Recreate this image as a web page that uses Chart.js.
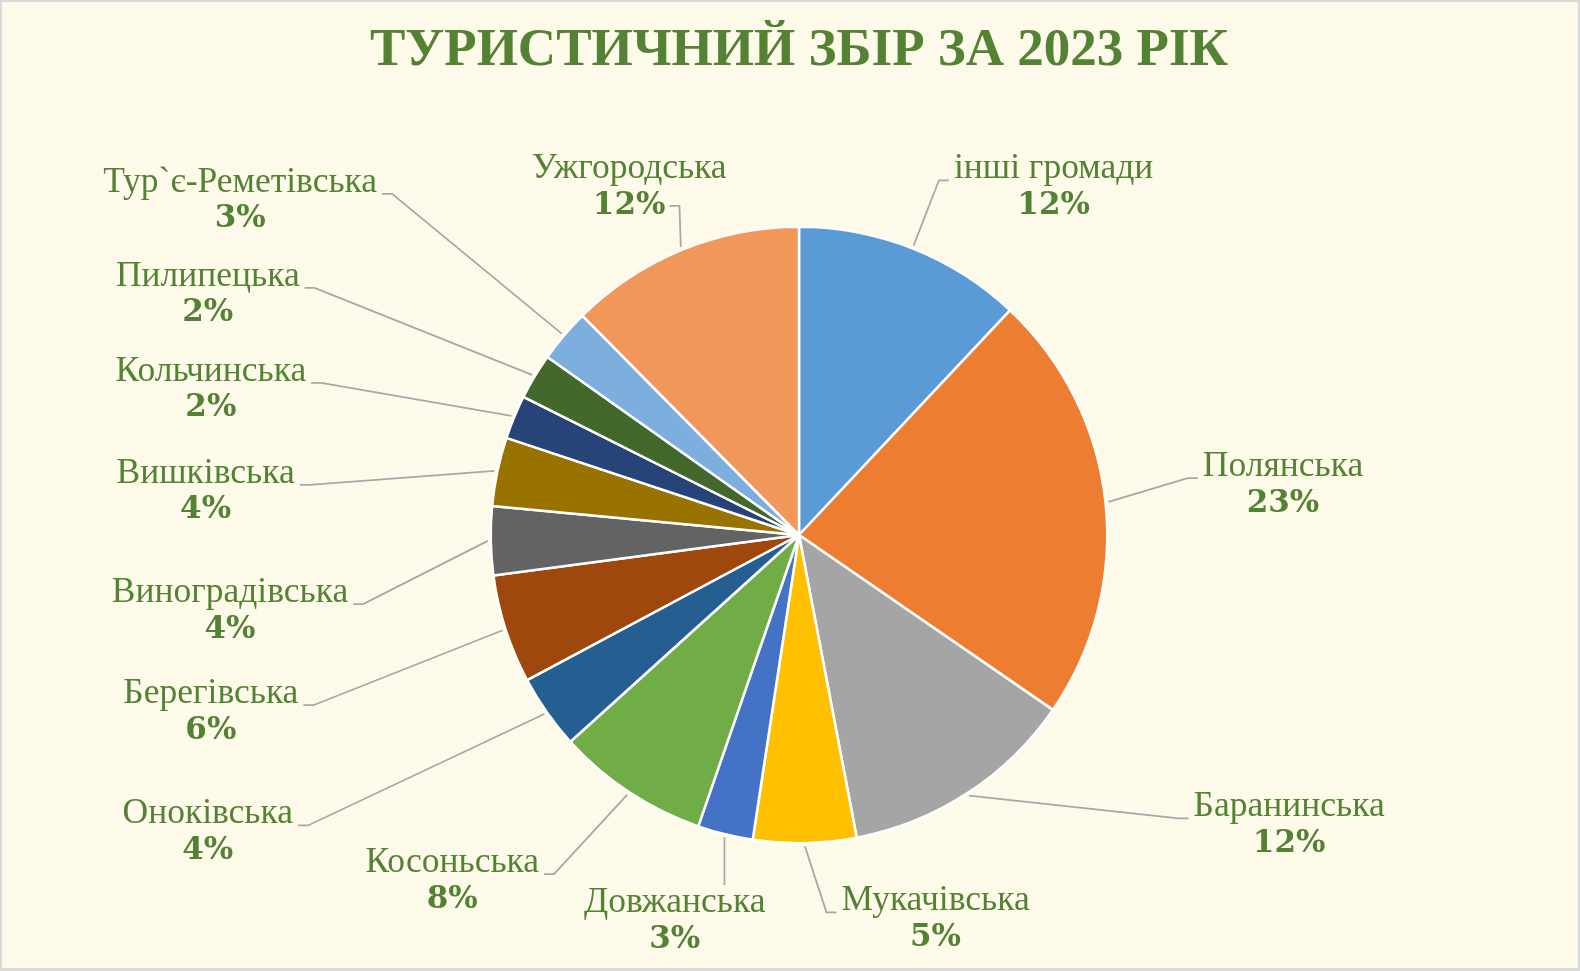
<!DOCTYPE html>
<html><head><meta charset="utf-8">
<script src="https://cdn.jsdelivr.net/npm/chart.js@4/dist/chart.umd.min.js"></script>
<style>
html,body{margin:0;padding:0;background:#D9D9D9;width:1580px;height:971px;overflow:hidden;}
#wrap{position:absolute;left:2px;top:2px;width:1576px;height:966px;background:#FEFAEA;}
</style></head><body><div id="wrap"><canvas id="c"></canvas></div>
<script>
const title = 'ТУРИСТИЧНИЙ ЗБІР ЗА 2023 РІК';
const categories = ['інші громади','Полянська','Баранинська','Мукачівська','Довжанська','Косоньська','Оноківська','Берегівська','Виноградівська','Вишківська','Кольчинська','Пилипецька','Тур`є-Реметівська','Ужгородська'];
const shares = [12.0, 22.6, 12.4, 5.4, 2.9, 8.0, 3.9, 5.7, 3.6, 3.6, 2.3, 2.4, 2.8, 12.4];
const sliceColors = ['#5B9BD5','#ED7D31','#A5A5A5','#FFC000','#4472C4','#70AD47','#255E91','#9E480E','#636363','#997300','#264478','#43682B','#7CAFDD','#F1975A'];
// label block centre, relative to pie centre, in units of the radius
const labelOffsets = [[0.826,-1.128],[1.570,-0.162],[1.590,0.942],[0.443,1.247],[-0.403,1.254],[-1.125,1.123],[-1.918,0.965],[-1.908,0.575],[-1.846,0.247],[-1.925,-0.140],[-1.908,-0.471],[-1.918,-0.779],[-1.813,-1.084],[-0.551,-1.128]];

const outLabels = {
  id: 'outLabels',
  afterDatasetsDraw(chart, args, opts) {
    const ctx = chart.ctx;
    const meta = chart.getDatasetMeta(0);
    const data = chart.data.datasets[0].data;
    const total = data.reduce((a, b) => a + b, 0);
    meta.data.forEach((arc, i) => {
      const p = arc.getProps(['x','y','startAngle','endAngle','outerRadius'], true);
      const mid = (p.startAngle + p.endAngle) / 2;
      const ax = p.x + Math.cos(mid) * (p.outerRadius + 3);
      const ay = p.y + Math.sin(mid) * (p.outerRadius + 3);
      const off = opts.offsets[i];
      const bx = p.x + off[0] * p.outerRadius, by = p.y + off[1] * p.outerRadius;
      const name = chart.data.labels[i];
      const pct = Math.round(data[i] / total * 100) + '%';
      ctx.save();
      ctx.font = opts.nameFont; const wN = ctx.measureText(name).width;
      ctx.font = opts.pctFont; const wP = ctx.measureText(pct).width;
      const yN = by - opts.gap / 2, yP = by + opts.gap / 2;
      const w = Math.max(wN, wP);
      const left = bx - w / 2, right = bx + w / 2, top = yN - 16, bottom = yP + 14;
      const pts = [[ax, ay]];
      if (ay > bottom && ax >= bx - wP / 2 && ax <= bx + wP / 2) {
        pts.push([ax, bottom + 2]);
      } else if (ay < top && ax >= bx - wN / 2 && ax <= bx + wN / 2) {
        pts.push([ax, top - 2]);
      } else if (ay > bottom && ax >= left && ax <= right) {
        const s = ax > bx ? 1 : -1;
        const sx = bx + s * (wP / 2 + 4);
        pts.push([sx + s * 10, yP], [sx, yP]);
      } else {
        const s = ax > bx ? 1 : -1;
        const sx = s > 0 ? right + 5 : left - 5;
        const ey = by - 7;
        pts.push([sx + s * 10, ey], [sx, ey]);
      }
      ctx.strokeStyle = opts.lineColor; ctx.lineWidth = 1.75;
      ctx.beginPath(); ctx.moveTo(pts[0][0], pts[0][1]);
      for (let k = 1; k < pts.length; k++) ctx.lineTo(pts[k][0], pts[k][1]);
      ctx.stroke();
      ctx.fillStyle = opts.color; ctx.textAlign = 'center'; ctx.textBaseline = 'middle';
      ctx.font = opts.nameFont; ctx.fillText(name, bx, yN);
      ctx.font = opts.pctFont; ctx.fillText(pct, bx, yP);
      ctx.restore();
    });
  }
};

new Chart(document.getElementById('c'), {
  type: 'pie',
  data: {
    labels: categories,
    datasets: [{ data: shares, backgroundColor: sliceColors, borderColor: '#FFFFFF', borderWidth: 2.5 }]
  },
  options: {
    responsive: true, maintainAspectRatio: false, animation: false,
    layout: { padding: { top: 0, bottom: 123.5, left: 115, right: 97 } },
    plugins: {
      legend: { display: false },
      tooltip: { enabled: false },
      title: { display: true, text: title, color: '#548235', font: { family: 'Liberation Serif', size: 53, weight: 'bold', lineHeight: 1.2 }, padding: { top: 17.6, bottom: 142.3 } },
      outLabels: { offsets: labelOffsets, nameFont: '35.5px "Liberation Serif"', pctFont: 'bold 31px "DejaVu Serif", "Liberation Serif"', gap: 37, color: '#548235', lineColor: '#A6A6A6' }
    }
  },
  plugins: [outLabels]
});
</script></body></html>
